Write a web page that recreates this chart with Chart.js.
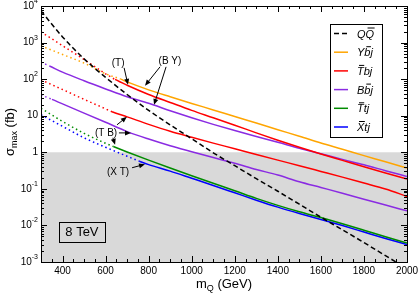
<!DOCTYPE html>
<html>
<head>
<meta charset="utf-8">
<script src="https://cdn.jsdelivr.net/npm/chart.js@4.4.0/dist/chart.umd.min.js"></script>
<style>
  html, body { margin: 0; padding: 0; background: #fff; }
</style>
</head>
<body>
<canvas id="sigma" width="419" height="294"></canvas>
<script>
const massGrid = [300, 400, 500, 600, 700, 800, 900, 1000, 1100, 1200, 1300, 1400, 1500, 1600, 1700, 1800, 1900, 2000];

// sigma_max in fb
const qqbar = [7350, 1430, 359, 112, 38, 14, 5.6, 2.34, 0.97, 0.43, 0.19, 0.086, 0.038, 0.0168, 0.0076, 0.0034, 0.00149, 0.00066];
const ybj   = [813, 473, 275, 140, 84, 51, 33, 21.7, 14.4, 9.5, 6.3, 4.14, 2.75, 1.79, 1.21, 0.81, 0.55, 0.37];
const tbjT  = [1960, 822, 345, 140, 68, 38, 23, 14, 8.8, 5.5, 3.4, 2.13, 1.37, 0.90, 0.60, 0.40, 0.27, 0.185];
const bbjBY = [290, 155, 90, 54, 33, 21.8, 13.7, 8.8, 5.8, 3.92, 2.70, 1.88, 1.29, 0.91, 0.64, 0.455, 0.314, 0.218];
const tbjTB = [96, 52, 28, 15.4, 9.3, 5.8, 3.75, 2.57, 1.78, 1.25, 0.87, 0.61, 0.43, 0.30, 0.209, 0.144, 0.099, 0.062];
const bbjTB = [37, 21, 11.8, 6.6, 3.68, 2.30, 1.51, 1.04, 0.72, 0.50, 0.34, 0.238, 0.156, 0.109, 0.076, 0.052, 0.036, 0.025];
const ttj   = [15.9, 7.0, 3.3, 1.76, 1.02, 0.61, 0.37, 0.228, 0.142, 0.089, 0.055, 0.0354, 0.0236, 0.0164, 0.0111, 0.0074, 0.0049, 0.0033];
const xtj   = [10.6, 5.13, 2.49, 1.37, 0.78, 0.46, 0.306, 0.195, 0.124, 0.078, 0.049, 0.0316, 0.0212, 0.0146, 0.0099, 0.0066, 0.0044, 0.0030];

// [mass, sigma] where each line turns from dotted to solid
const ybjStart   = [670, 100];
const tbjTStart  = [644, 98];
const bbjBYStart = [342, 225];
const tbjTBStart = [630, 12.8];
const bbjTBStart = [351, 28];
const ttjStart   = [636, 1.44];
const xtjStart   = [760, 0.56];

const xMajor = [400, 600, 800, 1000, 1200, 1400, 1600, 1800, 2000];
const yExp = [-3, -2, -1, 0, 1, 2, 3, 4];
const grayBelow = 1;

const legendLabels = ['QQ\u0305', 'Yb\u0305j', 'T\u0305bj', 'Bb\u0305j', 'T\u0305tj', 'X\u0305tj'];

const toPoints = (vals, start) => {
  const pts = massGrid.map((m, i) => ({ x: m, y: vals[i] }));
  if (start) pts.push({ x: start[0], y: start[1] });
  return pts.sort((a, b) => a.x - b.x);
};

const dotted = [1.5, 3];
const line = (label, color, vals, start) => ({
  label: label,
  data: toPoints(vals, start),
  borderColor: color,
  borderWidth: 1.5,
  pointRadius: 0,
  fill: false,
  cubicInterpolationMode: 'monotone',
  segment: {
    borderDash: c => (start && c.p1.parsed.x <= start[0]) ? dotted : []
  }
});

const COL = { ybj: '#ffa500', tbj: '#ff0000', bbj: '#8a2be2', ttj: '#008c00', xtj: '#0000ff' };

const datasets = [
  { label: legendLabels[0], data: toPoints(qqbar, null), borderColor: '#000', borderWidth: 1.5,
    borderDash: [5, 3], pointRadius: 0, fill: false, cubicInterpolationMode: 'monotone' },
  line(legendLabels[1], COL.ybj, ybj, ybjStart),
  line(legendLabels[2], COL.tbj, tbjT, tbjTStart),
  line(legendLabels[3], COL.bbj, bbjBY, bbjBYStart),
  line(legendLabels[2], COL.tbj, tbjTB, tbjTBStart),
  line(legendLabels[3], COL.bbj, bbjTB, bbjTBStart),
  line(legendLabels[4], COL.ttj, ttj, ttjStart),
  line(legendLabels[5], COL.xtj, xtj, xtjStart)
];
const legendKeys = [0, 1, 2, 3, 6, 7];

// annotations in data coordinates: text [m, sigma], arrows [from, to]
const notes = [
  { text: '(T)', at: [658, 270], arrows: [[[686, 204], [704, 70]]] },
  { text: '(B Y)', at: [899, 316], arrows: [[[853, 217], [783, 66]], [[881, 217], [825, 19.8]]] },
  { text: '(T B)', at: [602, 3.39], arrows: [[[653, 5.64], [699, 9.33]], [[662, 3.39], [718, 3.39]], [[634, 2.49], [644, 1.6]]] },
  { text: '(X T)', at: [658, 0.293], arrows: [[[723, 0.378], [783, 0.47]]] }
];
const energyLabel = '8 TeV';
const energyAt = [490, 0.0067];

const drawArrow = (ctx, x1, y1, x2, y2) => {
  const ang = Math.atan2(y2 - y1, x2 - x1);
  const c = Math.cos(ang), s = Math.sin(ang);
  ctx.beginPath(); ctx.moveTo(x1, y1); ctx.lineTo(x2 - 3 * c, y2 - 3 * s); ctx.stroke();
  ctx.beginPath();
  ctx.moveTo(x2, y2);
  ctx.lineTo(x2 - 6 * c + 2.5 * s, y2 - 6 * s - 2.5 * c);
  ctx.lineTo(x2 - 6 * c - 2.5 * s, y2 - 6 * s + 2.5 * c);
  ctx.closePath(); ctx.fill();
};

const drawBarText = (ctx, str, x, y) => {
  let cx = x;
  for (let i = 0; i < str.length; i++) {
    const ch = str[i];
    if (ch === '\u0305') continue;
    const w = ctx.measureText(ch).width;
    ctx.fillText(ch, cx, y);
    if (str[i + 1] === '\u0305') ctx.fillRect(cx + 2, y - 10, w - 1.5, 1);
    cx += w;
  }
};

const frame = {
  id: 'frame',
  beforeDatasetsDraw(chart) {
    const { ctx, chartArea: a, scales: { y } } = chart;
    const y1 = y.getPixelForValue(grayBelow);
    ctx.save();
    ctx.fillStyle = '#d9d9d9';
    ctx.fillRect(a.left, y1, a.right - a.left, a.bottom - y1);
    ctx.restore();
  },
  afterDatasetsDraw(chart) {
    const { ctx, chartArea: a, scales: { x, y } } = chart;
    ctx.save();
    ctx.strokeStyle = '#000';
    ctx.fillStyle = '#000';
    ctx.lineWidth = 1;

    // box
    ctx.strokeRect(Math.round(a.left) + 0.5, Math.round(a.top) + 0.5, Math.round(a.right - a.left), Math.round(a.bottom - a.top));

    // x ticks, every 50 with long ones at labels
    ctx.beginPath();
    for (let m = 350; m < 2000; m += 50) {
      const px = Math.round(x.getPixelForValue(m)) + 0.5;
      const len = xMajor.includes(m) ? 6 : 3;
      ctx.moveTo(px, a.bottom); ctx.lineTo(px, a.bottom - len);
      ctx.moveTo(px, a.top); ctx.lineTo(px, a.top + len);
    }
    // y ticks, decades and 2..9
    yExp.forEach(e => {
      for (let k = 1; k <= 9; k++) {
        const v = k * Math.pow(10, e);
        if (v > 1e4 || (e === 4 && k > 1)) continue;
        const py = Math.round(y.getPixelForValue(v)) + 0.5;
        const len = k === 1 ? 6 : 3;
        ctx.moveTo(a.left, py); ctx.lineTo(a.left + len, py);
        ctx.moveTo(a.right, py); ctx.lineTo(a.right - len, py);
      }
    });
    ctx.stroke();

    // x labels
    ctx.font = '10px "Liberation Sans", Arial, sans-serif';
    ctx.textAlign = 'center';
    ctx.textBaseline = 'top';
    xMajor.forEach(m => ctx.fillText(String(m), x.getPixelForValue(m), a.bottom + 4));

    // y labels with superscripts
    ctx.textBaseline = 'middle';
    ctx.textAlign = 'right';
    const rx = a.left - 3;
    yExp.forEach(e => {
      const py = y.getPixelForValue(Math.pow(10, e));
      if (e === 0 || e === 1) {
        ctx.font = '10px "Liberation Sans", Arial, sans-serif';
        ctx.fillText(e === 0 ? '1' : '10', rx, py);
        return;
      }
      ctx.font = '7px "Liberation Sans", Arial, sans-serif';
      const sup = String(e);
      const sw = ctx.measureText(sup).width;
      ctx.fillText(sup, rx, py - 5);
      ctx.font = '10px "Liberation Sans", Arial, sans-serif';
      ctx.fillText('10', rx - sw, py);
    });

    // axis titles
    ctx.textAlign = 'left';
    ctx.textBaseline = 'alphabetic';
    const cx = (a.left + a.right) / 2;
    ctx.font = '13px "Liberation Sans", Arial, sans-serif';
    const wm = ctx.measureText('m').width;
    const wRest = ctx.measureText(' (GeV)').width;
    ctx.font = '9px "Liberation Sans", Arial, sans-serif';
    const wq = ctx.measureText('Q').width;
    let tx = cx - (wm + wq + wRest) / 2;
    const ty = 288;
    ctx.font = '13px "Liberation Sans", Arial, sans-serif';
    ctx.fillText('m', tx, ty);
    ctx.font = '9px "Liberation Sans", Arial, sans-serif';
    ctx.fillText('Q', tx + wm, ty + 3);
    ctx.font = '13px "Liberation Sans", Arial, sans-serif';
    ctx.fillText(' (GeV)', tx + wm + wq, ty);

    ctx.save();
    ctx.translate(14, (a.top + a.bottom) / 2 - 2);
    ctx.rotate(-Math.PI / 2);
    ctx.font = '13px "Liberation Sans", Arial, sans-serif';
    const ws = ctx.measureText('\u03c3').width;
    const wf = ctx.measureText(' (fb)').width;
    ctx.font = '9px "Liberation Sans", Arial, sans-serif';
    const wmax = ctx.measureText('max').width;
    let sx = -(ws + wmax + wf) / 2;
    ctx.font = '13px "Liberation Sans", Arial, sans-serif';
    ctx.fillText('\u03c3', sx, 0);
    ctx.font = '9px "Liberation Sans", Arial, sans-serif';
    ctx.fillText('max', sx + ws, 3);
    ctx.font = '13px "Liberation Sans", Arial, sans-serif';
    ctx.fillText(' (fb)', sx + ws + wmax, 0);
    ctx.restore();

    // annotations
    ctx.font = '10px "Liberation Sans", Arial, sans-serif';
    ctx.textAlign = 'center';
    ctx.textBaseline = 'middle';
    notes.forEach(n => {
      ctx.fillText(n.text, x.getPixelForValue(n.at[0]), y.getPixelForValue(n.at[1]));
      n.arrows.forEach(([f, t]) => drawArrow(ctx,
        x.getPixelForValue(f[0]), y.getPixelForValue(f[1]),
        x.getPixelForValue(t[0]), y.getPixelForValue(t[1])));
    });

    // energy box
    const ex = x.getPixelForValue(energyAt[0]), ey = y.getPixelForValue(energyAt[1]);
    ctx.font = '13px "Liberation Sans", Arial, sans-serif';
    ctx.fillText(energyLabel, ex, ey + 1);
    ctx.strokeRect(Math.round(ex - 23) + 0.5, Math.round(ey - 10) + 0.5, 46, 20);

    // legend
    const lx = a.right - 77, ly = a.top + 18;
    ctx.fillStyle = '#fff';
    ctx.fillRect(lx, ly, 52, 113);
    ctx.strokeRect(Math.round(lx) + 0.5, Math.round(ly) + 0.5, 52, 113);
    ctx.textAlign = 'left';
    ctx.textBaseline = 'alphabetic';
    ctx.font = 'italic 11px "Liberation Sans", Arial, sans-serif';
    legendKeys.forEach((di, i) => {
      const ds = chart.data.datasets[di];
      const rowY = ly + 9.5 + i * 18.7;
      ctx.strokeStyle = ds.borderColor;
      ctx.lineWidth = 1.5;
      ctx.setLineDash(ds.borderDash || []);
      ctx.beginPath(); ctx.moveTo(lx + 4, rowY); ctx.lineTo(lx + 18, rowY); ctx.stroke();
      ctx.setLineDash([]);
      ctx.fillStyle = '#000';
      drawBarText(ctx, ds.label, lx + 27, rowY + 4);
    });
    ctx.restore();
  }
};

new Chart(document.getElementById('sigma'), {
  type: 'line',
  data: { datasets: datasets },
  options: {
    responsive: false,
    animation: false,
    devicePixelRatio: 1,
    layout: { padding: { left: 41, right: 12, top: 6, bottom: 32 } },
    scales: {
      x: { type: 'linear', min: 300, max: 2000, display: false },
      y: { type: 'logarithmic', min: 1e-3, max: 1e4, display: false }
    },
    plugins: { legend: { display: false }, tooltip: { enabled: false } }
  },
  plugins: [frame]
});
</script>
</body>
</html>
